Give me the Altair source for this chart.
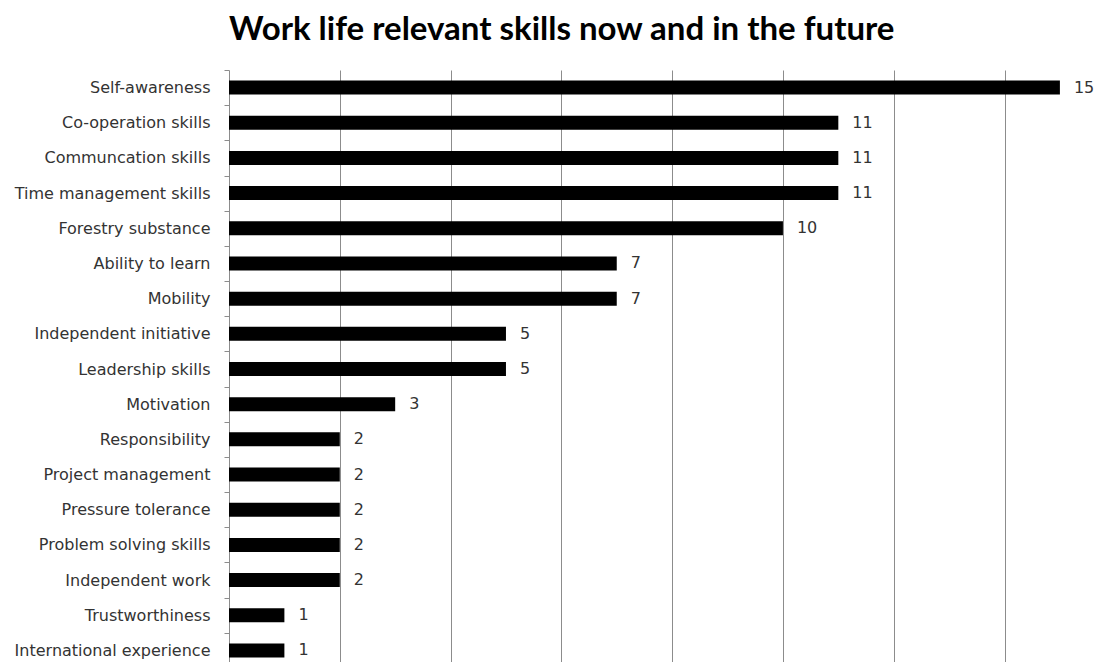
import altair as alt
import pandas as pd

categories = [
    "Self-awareness", "Co-operation skills", "Communcation skills",
    "Time management skills", "Forestry substance", "Ability to learn",
    "Mobility", "Independent initiative", "Leadership skills", "Motivation",
    "Responsibility", "Project management", "Pressure tolerance",
    "Problem solving skills", "Independent work", "Trustworthiness",
    "International experience",
]
values = [15, 11, 11, 11, 10, 7, 7, 5, 5, 3, 2, 2, 2, 2, 2, 1, 1]
grid_values = [2, 4, 6, 8, 10, 12, 14]

df = pd.DataFrame({"skill": categories, "count": values})

y_enc = alt.Y(
    "skill:N", sort=categories, title=None,
    scale=alt.Scale(paddingInner=0, paddingOuter=0),
    axis=alt.Axis(
        labelFont="DejaVu Sans", labelFontSize=16, labelColor="#333333",
        labelPadding=14, tickSize=5, tickBand="extent",
        tickColor="#8c8c8c", domainColor="#8c8c8c", labelLimit=0,
    ),
)
x_enc = alt.X(
    "count:Q", title=None,
    scale=alt.Scale(domain=[0, 15.76], nice=False, zero=True),
    axis=alt.Axis(grid=True, labels=False, ticks=False, domain=False,
                  values=grid_values, gridColor="#8c8c8c", gridWidth=1),
)

bars = alt.Chart(df).mark_bar(color="black", size=14).encode(x=x_enc, y=y_enc)
labels = alt.Chart(df).mark_text(
    align="left", baseline="middle", dx=14, font="DejaVu Sans",
    fontSize=16, color="#333333",
).encode(x="count:Q", y=alt.Y("skill:N", sort=categories), text="count:Q")

chart = (bars + labels).properties(
    width=873, height=598,
    title=alt.TitleParams(
        "Work life relevant skills now and in the future",
        anchor="start", frame="group", font="Lato", fontSize=33,
        fontWeight="bold", color="#000000", offset=15,
    ),
    autosize=alt.AutoSizeParams(type="none"),
    padding={"left": 221, "top": 62, "right": 0, "bottom": 0},
).configure_view(stroke=None)

chart.save("out.html", embed_options={"renderer": "svg", "actions": False})
